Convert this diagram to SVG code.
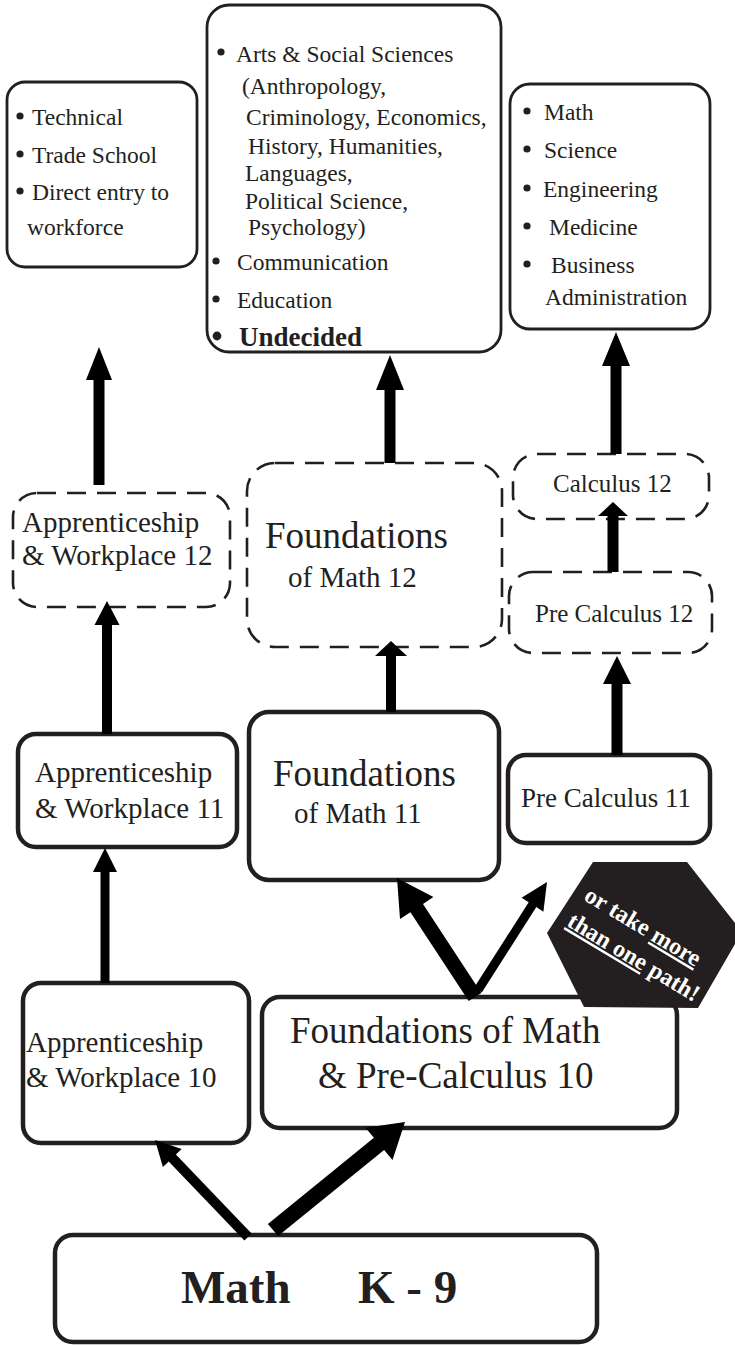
<svg xmlns="http://www.w3.org/2000/svg" width="735" height="1345" viewBox="0 0 735 1345">
<style>
.box{fill:#fff;stroke:#231f20;stroke-width:2.8}
.solid{fill:#fff;stroke:#231f20;stroke-width:4.5}
.dash{fill:#fff;stroke:#231f20;stroke-width:2.6;stroke-dasharray:19 11}
text{font-family:"Liberation Serif","Times New Roman",serif;fill:#231f20}
.li{font-size:23.5px}
.bu{fill:#231f20}
.aw{font-size:29px}
.fo{font-size:37px}
.om{font-size:29px}
.pc{font-size:25px}
.kb{font-size:47px;font-weight:bold}
.arr{fill:#000}
.hex{fill:#231f20}
.ht{font-size:24px;font-weight:bold;fill:#fff;text-anchor:middle}
</style>
<rect width="735" height="1345" fill="#fff"/>

<g id="n-technical">
<rect class="box" x="7" y="82" width="190" height="185" rx="18"/>
<circle class="bu" cx="20" cy="116" r="3.6"/><text class="li" x="32" y="125">Technical</text>
<circle class="bu" cx="20" cy="154" r="3.6"/><text class="li" x="32" y="163">Trade School</text>
<circle class="bu" cx="20" cy="191" r="3.6"/><text class="li" x="32" y="200">Direct entry to</text>
<text class="li" x="27" y="235">workforce</text>
</g>

<g id="n-arts">
<rect class="box" x="207" y="5" width="294" height="347" rx="22"/>
<circle class="bu" cx="221" cy="52" r="3.6"/><text class="li" x="236" y="62">Arts &amp; Social Sciences</text>
<text class="li" x="242" y="94">(Anthropology,</text>
<text class="li" x="246" y="125">Criminology, Economics,</text>
<text class="li" x="248" y="154">History, Humanities,</text>
<text class="li" x="245" y="181">Languages,</text>
<text class="li" x="245" y="209">Political Science,</text>
<text class="li" x="248" y="235">Psychology)</text>
<circle class="bu" cx="216" cy="261" r="3.6"/><text class="li" x="237" y="270">Communication</text>
<circle class="bu" cx="216" cy="299" r="3.6"/><text class="li" x="237" y="308">Education</text>
<circle class="bu" cx="217" cy="336" r="4.4"/><text x="239" y="346" style="font-size:27px;font-weight:bold">Undecided</text>
</g>

<g id="n-stem">
<rect class="box" x="510" y="84" width="200" height="245" rx="20"/>
<circle class="bu" cx="527" cy="111" r="3.6"/><text class="li" x="544" y="120">Math</text>
<circle class="bu" cx="527" cy="149" r="3.6"/><text class="li" x="544" y="158">Science</text>
<circle class="bu" cx="527" cy="188" r="3.6"/><text class="li" x="543" y="197">Engineering</text>
<circle class="bu" cx="527" cy="226" r="3.6"/><text class="li" x="549" y="235">Medicine</text>
<circle class="bu" cx="527" cy="264" r="3.6"/><text class="li" x="551" y="273">Business</text>
<text class="li" x="545" y="305">Administration</text>
</g>

<g id="n-aw12">
<rect class="dash" x="13" y="493" width="217" height="114" rx="24"/>
<text class="aw" x="22" y="532">Apprenticeship</text>
<text class="aw" x="22" y="565">&amp; Workplace 12</text>
</g>

<g id="n-fom12">
<rect class="dash" x="247" y="463" width="255" height="184" rx="28"/>
<text class="fo" x="265" y="548">Foundations</text>
<text class="om" x="288" y="587">of Math 12</text>
</g>

<g id="n-calc12">
<rect class="dash" x="513" y="454" width="196" height="65" rx="24"/>
<text class="pc" x="553" y="492">Calculus 12</text>
</g>

<g id="n-precalc12">
<rect class="dash" x="509" y="572" width="203" height="81" rx="24"/>
<text class="pc" x="535" y="622">Pre Calculus 12</text>
</g>

<g id="n-aw11">
<rect class="solid" x="18" y="734" width="219" height="113" rx="18"/>
<text class="aw" x="35" y="782">Apprenticeship</text>
<text class="aw" x="35" y="818">&amp; Workplace 11</text>
</g>

<g id="n-fom11">
<rect class="solid" x="249" y="712" width="250" height="168" rx="20"/>
<text class="fo" x="273" y="786">Foundations</text>
<text class="om" x="294" y="823">of Math 11</text>
</g>

<g id="n-precalc11">
<rect class="solid" x="508" y="755" width="202" height="88" rx="18"/>
<text x="521" y="807" style="font-size:27px">Pre Calculus 11</text>
</g>

<g id="n-aw10">
<rect class="solid" x="23" y="983" width="226" height="160" rx="18"/>
<text class="aw" x="26" y="1052">Apprenticeship</text>
<text class="aw" x="26" y="1087">&amp; Workplace 10</text>
</g>

<g id="n-fompc10">
<rect class="solid" x="262" y="997" width="415" height="131" rx="18"/>
<text class="fo" x="290" y="1043">Foundations of Math</text>
<text class="fo" x="318" y="1088">&amp; Pre-Calculus 10</text>
</g>

<g id="n-k9">
<rect class="solid" x="55" y="1235" width="542" height="107" rx="18"/>
<text class="kb" y="1303"><tspan x="181">Math</tspan><tspan x="358">K - 9</tspan></text>
</g>

<g id="connectors">
<polygon class="arr" points="99,347 112,380 104.5,380 104.5,485 93.5,485 93.5,380 86,380"/>
<polygon class="arr" points="390,355 404,390 395.5,390 395.5,463 384.5,463 384.5,390 376,390"/>
<polygon class="arr" points="616,332 630,366 621.5,366 621.5,454 610.5,454 610.5,366 602,366"/>
<polygon class="arr" points="613,502 628,516 618.5,516 618.5,572 607.5,572 607.5,516 598,516"/>
<polygon class="arr" points="391,641 407,656 396,656 396,712 386,712 386,656 375,656"/>
<polygon class="arr" points="617,656 631,684 622.5,684 622.5,755 611.5,755 611.5,684 603,684"/>
<polygon class="arr" points="107,601 119.5,625 112,625 112,734 102,734 102,625 94.5,625"/>
<polygon class="arr" points="105,848 117,872 109.5,872 109.5,983 100.5,983 100.5,872 93,872"/>
<polygon class="arr" points="397,878 433.4,897.1 423,904 481.3,992.9 468.7,1001.1 410.4,912.2 400,919.1"/>
<polygon class="arr" points="547,882 543.4,911.7 536.3,907.1 481.8,992.4 474.2,987.6 528.7,902.3 521.6,897.7"/>
<polygon class="arr" points="155,1140 181.7,1149 175.9,1154.5 251.6,1233.5 244.4,1240.5 168.7,1161.5 162.9,1167"/>
<polygon class="arr" points="405,1122 392.5,1160 384.1,1150 278.1,1236.1 267.9,1223.9 373.9,1137.8 365.5,1127.8"/>
</g>

<g id="n-note">
<polygon class="hex" points="593,862 687,862 742,932 698,1008 584,1007 547,933"/>
<g transform="translate(642,928) rotate(31)">
<text class="ht" x="0" y="6">or take <tspan text-decoration="underline">more</tspan></text>
<text class="ht" x="8" y="37"><tspan text-decoration="underline">than one</tspan> path!</text>
</g>
</g>
</svg>
